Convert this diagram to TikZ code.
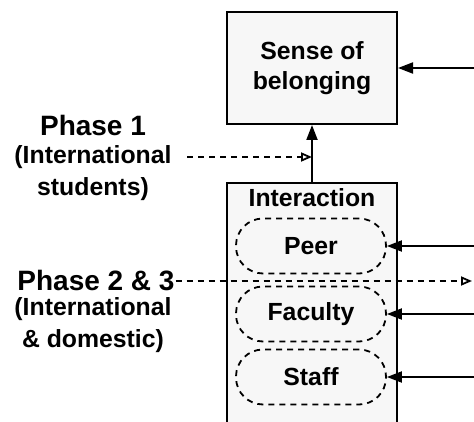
\documentclass[tikz,border=0pt]{standalone}
\usepackage{fontspec}
\setmainfont{Liberation Sans}
\usetikzlibrary{positioning, arrows.meta}

\begin{document}
\begin{tikzpicture}[x=1pt, y=-1pt, >={Triangle[length=15pt, width=11pt]}, line width=2pt,
        font=\fontsize{24.8}{30}\selectfont\bfseries,
        box/.style={draw, fill=black!3, minimum width=170pt},
        group/.style={draw, dash pattern=on 6pt off 5pt, line width=1.8pt, rounded corners=27pt, minimum width=150pt, minimum height=55pt},
        phase/.style={font=\fontsize{28}{32}\selectfont\bfseries, inner sep=0pt},
        note/.style={align=center, inner sep=0pt, font=\fontsize{24.8}{31.5}\selectfont\bfseries},
        link/.style={dash pattern=on 6pt off 5pt, line width=1.8pt, -{Triangle[open, length=11pt, width=9pt]}}]
        \useasboundingbox (0,0) rectangle (474,422);

        % Outcome and interaction boxes
        \node[box, minimum height=112pt, align=center] (sense) at (312,68) {Sense of\\belonging};
        \node[box, anchor=north, minimum height=260pt] (inter) at (312,182) {};
        \node[inner sep=0pt, below=6pt of inter.north] (intertitle) {Interaction};

        \node[group] (peer) at (311,246) {Peer};
        \node[group] (faculty) at (311,314) {Faculty};
        \node[group] (staff) at (311,377) {Staff};

        % Phase labels
        \node[phase] (p1) at (93,125) {Phase 1};
        \node[note] (p1sub) at (93,173) {(International\\students)};
        \node[phase] (p2) at (96,281) {Phase 2 \& 3};
        \node[note] (p2sub) at (93,325) {(International\\\& domestic)};

        % Free ends on the right
        \coordinate (inS) at (474,68);
        \coordinate (inP) at (474,246);
        \coordinate (inF) at (474,314);
        \coordinate (inT) at (474,377);
        \coordinate (d1) at (187,157);
        \coordinate (d2) at (472,281);

        \path[->]
        (inS) edge (sense)
        (inter.north) edge (sense)
        (inP) edge (peer)
        (inF) edge (faculty)
        (inT) edge (staff);

        % Phases
        \draw[link] (d1) -- (sense.south |- d1);
        \draw[link] (p2.east) -- (d2);
\end{tikzpicture}
\end{document}
